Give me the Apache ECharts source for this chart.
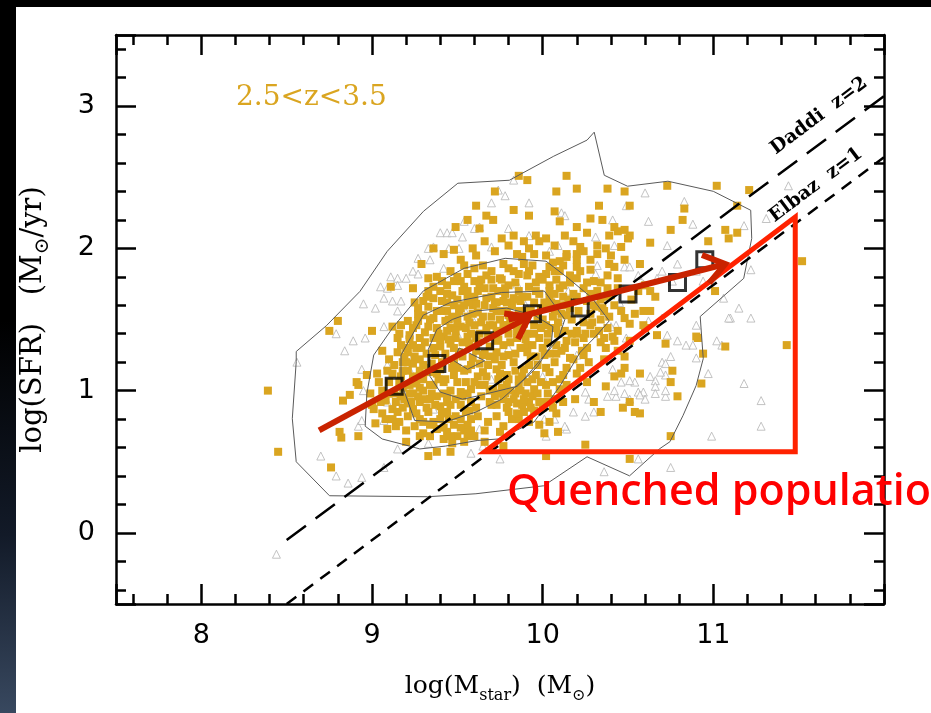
<!DOCTYPE html>
<html><head><meta charset="utf-8">
<script src="https://cdn.jsdelivr.net/npm/echarts@6/dist/echarts.min.js"></script>
<style>html,body{margin:0;padding:0;background:#fff}#c{width:931px;height:713px}</style>
</head><body><div id="c"></div>
<script>
// ---------- data ----------
const xTickLabels = [8, 9, 10, 11];
const yTickLabels = [0, 1, 2, 3];

// binned running median (open black squares)
const binMassX = [9.13, 9.38, 9.66, 9.94, 10.22, 10.50, 10.79, 10.95];
const binSfrY  = [1.03, 1.19, 1.35, 1.54, 1.58, 1.68, 1.76, 1.92];

// reference relations
const daddiLine = [[8.5, -0.05], [12.0, 3.07]];
const elbazLine = [[8.5, -0.5], [12.0, 2.64]];

// red annotation arrows and quenched triangle
const trendArrows = [[[8.69, 0.72], [9.92, 1.52]], [[9.80, 1.50], [11.07, 1.89]]];
const quenchedTriangle = [[9.66, 0.57], [11.48, 2.22], [11.48, 0.57]];

// density contours
const contourOuter = [[8.556,1.275],[8.734,1.458],[8.929,1.697],[9.089,1.979],[9.302,2.261],[9.503,2.458],[9.805,2.479],[10.065,2.648],[10.26,2.761],[10.302,2.817],[10.361,2.514],[10.497,2.437],[10.734,2.472],[11.0,2.401],[11.219,2.268],[11.225,2.07],[11.178,1.789],[10.923,1.521],[10.941,1.225],[10.899,1.035],[10.822,0.824],[10.746,0.641],[10.686,0.592],[10.509,0.401],[10.26,0.535],[10.006,0.331],[9.609,0.275],[9.325,0.254],[8.751,0.261],[8.556,0.5],[8.533,0.803],[8.556,1.204]];
const contourLevel2 = [[8.97,0.98],[9.01,1.25],[9.12,1.44],[9.30,1.70],[9.54,1.86],[9.78,1.93],[10.02,1.91],[10.15,1.79],[10.29,1.65],[10.39,1.49],[10.31,1.38],[10.22,1.27],[10.10,1.03],[9.95,0.78],[9.74,0.66],[9.62,0.65],[9.43,0.61],[9.28,0.59],[9.22,0.61],[9.06,0.66],[8.96,0.75]];
const contourLevel3 = [[9.17,1.25],[9.30,1.53],[9.46,1.62],[9.76,1.69],[10.01,1.70],[10.13,1.50],[10.09,1.36],[9.99,1.22],[9.89,1.08],[9.76,0.94],[9.61,0.85],[9.43,0.78],[9.25,0.79],[9.17,1.06]];
const contourLevel4 = [[9.33,1.29],[9.38,1.43],[9.47,1.50],[9.61,1.56],[9.79,1.58],[9.95,1.53],[10.06,1.45],[10.05,1.32],[9.97,1.17],[9.85,1.03],[9.61,0.96],[9.53,0.94],[9.40,0.99],[9.34,1.10]];
const contourLevel5 = [[9.48,1.21],[9.51,1.30],[9.66,1.21],[9.56,1.15]];

// galaxies, gold squares
const goldGalaxies = [
[9.61,2.30],[9.56,2.20],[9.49,2.15],[9.36,2.00],[9.42,1.96],[9.48,1.99],[9.59,2.00],[9.29,1.89],[9.52,1.92],[9.54,1.88],[9.46,1.84],[9.60,1.86],[9.33,1.79],[9.41,1.77],[9.48,1.77],[9.52,1.77],[9.11,1.73],[9.24,1.72],[9.36,1.73],[9.44,1.74],[9.54,1.73],[9.60,1.77],[9.33,1.70],[9.40,1.70],[9.47,1.67],[9.53,1.70],[9.30,1.63],[9.36,1.65],[9.41,1.63],[9.48,1.60],[9.56,1.65],[9.27,1.58],[9.33,1.59],[9.38,1.56],[9.44,1.56],[9.52,1.58],[9.59,1.60],[9.21,1.49],[9.27,1.49],[9.30,1.53],[9.36,1.51],[9.43,1.49],[9.50,1.51],[9.56,1.52],[9.12,1.45],[9.17,1.46],[9.24,1.44],[9.33,1.45],[9.38,1.44],[9.46,1.44],[9.52,1.45],[9.60,1.46],[9.15,1.37],[9.22,1.39],[9.28,1.37],[9.36,1.37],[9.42,1.38],[9.49,1.37],[9.56,1.38],[8.80,1.49],[8.75,1.42],[9.00,1.42],[9.17,1.32],[9.24,1.32],[9.40,1.31],[9.46,1.33],
[9.86,2.51],[9.91,2.48],[10.14,2.51],[9.72,2.40],[10.08,2.40],[10.20,2.42],[10.38,2.42],[10.48,2.40],[10.73,2.44],[9.83,2.27],[9.92,2.23],[10.07,2.26],[10.33,2.30],[10.51,2.30],[10.83,2.28],[9.67,2.23],[9.71,2.20],[10.10,2.19],[10.28,2.21],[10.35,2.20],[10.42,2.15],[10.82,2.20],[10.20,2.15],[10.44,2.12],[10.48,2.13],[10.51,2.09],[10.75,2.13],[9.63,2.14],[9.76,2.07],[9.83,2.09],[9.96,2.09],[10.02,2.07],[10.13,2.09],[10.26,2.11],[10.39,2.09],[10.50,2.07],[10.63,2.04],[9.66,2.05],[9.80,2.02],[9.89,2.05],[9.92,2.00],[9.98,2.05],[10.07,2.02],[10.18,2.05],[10.22,2.01],[10.32,2.02],[10.37,2.00],[10.46,2.01],[9.61,1.95],[9.72,1.98],[9.85,1.96],[9.95,1.96],[10.02,1.95],[10.14,1.94],[10.20,1.96],[10.32,1.96],[10.40,1.95],[10.48,1.92],[10.57,1.89],[9.65,1.88],[9.77,1.89],[9.89,1.89],[10.04,1.87],[10.10,1.91],[10.20,1.87],[10.28,1.85],[10.39,1.89],[10.42,1.87],[9.67,1.81],[9.75,1.79],[9.83,1.84],[9.91,1.81],[9.98,1.80],[10.07,1.84],[10.16,1.81],[10.20,1.79],[10.30,1.77],[10.38,1.81],[10.44,1.79],[10.60,1.74],[10.63,1.70],[9.63,1.74],[9.71,1.72],[9.80,1.74],[9.86,1.70],[9.92,1.73],[10.04,1.74],[10.10,1.72],[10.18,1.68],[10.24,1.72],[10.32,1.70],[10.40,1.67],[9.67,1.65],[9.77,1.63],[9.83,1.65],[10.04,1.65],[10.08,1.61],[10.14,1.60],[10.26,1.63],[10.31,1.59],[10.36,1.56],[9.73,1.56],[9.80,1.53],[10.07,1.56],[10.14,1.53],[9.69,1.46],[9.77,1.46],[9.85,1.42],[10.02,1.46],[10.08,1.44],[10.20,1.42],[10.28,1.46],[10.36,1.37],[10.42,1.35],[10.48,1.51],[10.51,1.47],[10.60,1.44],[10.63,1.56],[10.67,1.39],[10.72,1.33],[9.61,1.37],[9.73,1.35],[9.91,1.32],[9.98,1.37],[10.14,1.35],[10.24,1.37],[10.66,1.66],[10.59,1.56],
[11.02,2.44],[11.21,2.41],[11.14,2.30],[11.07,2.13],[11.14,2.11],[11.09,2.07],[10.97,2.05],[11.52,1.91],[11.01,1.70],[10.91,1.37],[11.43,1.32],
[10.46,1.12],[10.57,1.12],[10.76,1.14],[10.75,1.06],[10.79,0.96],[10.37,1.03],[10.30,0.92],[10.34,0.85],[10.47,0.88],[10.51,0.92],[10.54,0.85],[10.57,0.84],[10.19,0.94],[10.01,0.70],[10.09,0.71],[10.25,0.62],[10.02,0.54],[10.51,0.52],[10.75,0.68],[9.77,0.61],
[9.65,1.25],[9.73,1.27],[9.80,1.25],[9.91,1.27],[10.01,1.25],[10.08,1.26],[10.16,1.23],[10.24,1.25],[9.65,1.13],[9.73,1.15],[9.79,1.11],[9.89,1.15],[9.96,1.11],[10.04,1.13],[10.12,1.11],[10.20,1.12],[9.63,1.04],[9.71,1.01],[9.79,1.04],[9.86,1.03],[9.95,1.01],[10.02,1.04],[10.10,1.01],[9.69,0.92],[9.77,0.94],[9.85,0.91],[9.92,0.92],[10.01,0.92],[10.07,0.94],[9.73,0.82],[9.80,0.85],[9.89,0.85],[9.95,0.86],[9.77,0.75],[9.75,0.71],[9.86,0.80],
[8.39,1.00],[8.45,0.57],[8.76,0.46],[8.81,0.71],[8.82,0.67],[8.92,0.68],[8.83,0.93],[8.87,0.97],[8.92,1.04],[8.99,0.98],[9.03,1.12],[9.04,1.06],[9.01,0.87],[9.06,0.84],[9.02,0.77],[9.09,0.73],[9.14,0.75],[9.08,0.93],[9.12,0.87],[9.15,0.85],[9.17,0.96],[9.21,0.91],[9.24,0.87],[9.21,0.82],[9.25,0.75],[9.20,0.64],[9.28,0.68],[9.34,0.68],[9.38,0.73],[9.44,0.71],[9.50,0.68],[9.54,0.72],[9.56,0.68],[9.47,0.63],[9.46,0.57],[9.33,0.54],[9.38,0.57],[9.28,0.80],[9.33,0.85],[9.28,0.92],[9.34,0.94],[9.40,0.89],[9.44,0.85],[9.49,0.82],[9.58,0.80],[9.55,0.85],[9.18,1.20],[9.24,1.19],[9.15,1.27],[9.21,1.27],[9.30,1.08],[9.36,1.04],[9.42,1.06],[9.48,1.11],[9.52,0.99],[9.44,0.96],[9.58,1.01],[9.56,1.15],[9.48,1.20],[9.40,1.15],[9.34,1.13],[9.30,1.18],[8.91,1.06],[8.97,1.11],[9.06,1.28],[9.10,1.22],
[11.07,1.31],[10.90,1.38],[10.94,1.26],[10.44,1.42],[10.59,1.46],[10.51,1.35],[10.93,1.05],
[9.45,1.50],[9.50,1.46],[9.55,1.44],[9.62,1.55],[9.66,1.60],[9.70,1.66],[9.74,1.70],[9.78,1.68],[9.82,1.60],[9.86,1.56],[9.90,1.52],[9.95,1.62],[9.98,1.68],[10.02,1.58],[10.06,1.52],[10.10,1.60],[10.12,1.66],[10.16,1.58],[10.00,1.50],[9.76,1.56],[9.70,1.52],[9.64,1.48],[9.58,1.40],[9.53,1.34],[9.48,1.30],[9.44,1.42],[9.40,1.36],[9.36,1.30],[9.32,1.26],[9.28,1.22],[9.26,1.30],[9.22,1.36],[9.20,1.20],[9.24,1.10],[9.30,1.00],[9.34,1.04],[9.38,0.96],[9.46,1.00],[9.50,1.06],[9.54,1.14],[9.58,1.18],[9.62,1.10],[9.66,1.04],[9.72,0.96],[9.76,1.02],[9.80,1.08],[9.84,1.14],[9.88,1.10],[9.92,1.18],[9.96,1.24],[10.00,1.30],[10.04,1.26],[10.08,1.32],[9.86,1.44],[9.90,1.36],[9.94,1.32],[9.78,1.46],[9.74,1.36],[9.68,1.38],[9.62,1.34],[9.66,1.26],[9.72,1.22],[9.76,1.18],[9.84,1.26],[9.80,1.40],[9.56,0.98],[9.52,0.90],[9.44,0.92],[9.40,0.80],[9.36,0.78],[9.48,0.76],[9.56,0.76],[9.62,0.82],[9.68,0.78],[9.60,0.68],[9.66,0.64],[9.54,0.64],[9.12,1.12],[9.16,1.06],[9.10,0.98],[9.06,1.00],[9.18,1.14],[9.08,0.80],[9.00,0.90],[9.24,0.98],[9.28,1.02],[9.16,0.78],[9.20,0.72],[9.30,0.70],[9.42,0.66],[9.80,0.92],[9.84,0.98],[9.88,0.90],[9.94,0.96],[10.00,0.88],[10.06,1.06],[10.12,0.92],[10.08,0.84],[10.04,0.78],[9.98,0.76],[9.92,0.78],[10.14,1.16],[10.18,1.22],[10.22,1.16],[10.26,1.06],[10.20,1.40],[10.24,1.48],[10.28,1.54],[10.34,1.50],[10.38,1.44],[10.30,1.40],[10.26,1.30],[10.34,1.34],[10.36,1.22],[10.44,1.28],[10.48,1.24],[10.42,1.10],[10.48,1.16],[10.12,1.74],[10.20,1.66],[10.26,1.76],[10.34,1.76],[10.36,1.66],[10.44,1.72],[10.46,1.56],[10.52,1.64],[10.54,1.54],[10.56,1.70],[9.62,1.70],[9.58,1.62],[9.64,1.78],[9.70,1.84],[9.76,1.78],[9.80,1.86],[9.86,1.82],[9.88,1.94],[9.94,1.88],[9.96,1.76],[10.02,1.82],[10.06,1.90],[10.10,1.84],[10.14,1.96],[10.20,1.92],[10.24,1.98],[10.28,1.92],
[9.25,1.62],[9.31,1.41],[9.35,1.19],[9.39,1.08],[9.43,1.26],[9.47,1.52],[9.51,1.27],[9.54,1.60],[9.57,1.33],[9.59,1.23],[9.61,1.61],[9.63,1.19],[9.67,1.44],[9.69,1.31],[9.71,1.58],[9.73,1.42],[9.75,1.12],[9.77,1.32],[9.79,1.62],[9.81,1.48],[9.83,1.20],[9.85,1.37],[9.87,1.63],[9.89,1.47],[9.91,1.40],[9.93,1.56],[9.95,1.46],[9.97,1.18],[9.99,1.58],[10.03,1.40],[10.05,1.62],[10.07,1.20],[10.09,1.48],[10.11,1.28],[10.13,1.42],[10.17,1.50],[10.19,1.34],[10.21,1.56],[10.23,1.28],[10.25,1.40],[10.27,1.20],[10.29,1.48],[10.33,1.42],[10.35,1.58],[10.37,1.30],[10.39,1.52],[10.41,1.38],[9.26,1.05],[9.32,0.88],[9.38,1.12],[9.42,0.98],[9.46,0.90],[9.50,1.16],[9.52,0.80],[9.58,0.92],[9.60,1.06],[9.64,0.96],[9.66,0.72],[9.68,1.18],[9.70,0.90],[9.74,1.08],[9.78,0.98],[9.82,0.80],[9.86,1.08],[9.90,0.98],[9.94,1.08],[9.98,0.92],[10.02,1.16],[10.06,0.88],[10.10,1.08],[10.14,1.04],[9.18,1.02],[9.14,0.92],[9.10,1.06],[9.22,1.04],[9.26,0.84],[9.30,0.78],[9.34,0.76],[9.42,0.74],[9.46,0.68],[9.52,0.74],[9.58,0.72],[9.12,0.80],[9.18,0.88],[9.22,0.98],[9.28,1.14],[9.20,1.30],[9.16,1.40],[9.26,1.46],[9.34,1.50],[9.40,1.56],[9.44,1.62],[9.50,1.64],[9.56,1.70],[9.60,1.66],[9.66,1.72],[9.70,1.78],[9.72,1.62],[9.78,1.72],[9.84,1.76],[9.88,1.66],[9.92,1.84],[9.96,1.70],[10.00,1.78],[10.04,1.70],[10.08,1.78],[10.12,1.88],[10.16,1.76],[10.22,1.84],[10.28,1.68],[10.30,1.60],[10.34,1.64],[10.38,1.72],[10.42,1.60],[9.50,1.80],[9.56,1.82],[9.44,1.68],[9.38,1.80],[9.32,1.66],
[9.27,1.54],[9.31,1.34],[9.33,1.16],[9.37,1.25],[9.39,1.40],[9.41,1.20],[9.43,1.08],[9.45,1.36],[9.47,1.16],[9.49,1.42],[9.51,1.56],[9.53,1.24],[9.55,1.06],[9.57,1.48],[9.59,1.54],[9.61,1.28],[9.63,1.40],[9.65,1.52],[9.67,1.10],[9.69,1.24],[9.71,1.46],[9.73,1.62],[9.75,1.50],[9.77,1.24],[9.79,1.56],[9.81,1.34],[9.83,1.52],[9.85,1.64],[9.87,1.30],[9.89,1.56],[9.91,1.66],[9.93,1.24],[9.95,1.40],[9.97,1.52],[9.99,1.44],[10.01,1.62],[10.03,1.34],[10.05,1.44],[10.07,1.68],[10.09,1.40],[10.11,1.54],[10.13,1.30],[10.15,1.64],[10.17,1.40],[9.69,1.00],[9.73,0.90],[9.75,0.98],[9.79,0.88],[9.81,1.00],[9.83,0.94],[9.85,0.84],[9.87,1.00],[9.89,0.94],[9.91,1.06],[9.93,0.88],[9.97,0.98],[9.99,1.06],[10.03,0.98],[10.05,0.92],[9.61,0.88],[9.57,0.86],[9.53,0.96],[9.49,0.94],[9.45,0.80],[9.41,0.84],[9.37,0.90],[9.35,0.98],[9.31,0.94],[9.27,0.96],[9.23,0.92],[9.19,0.94],[9.13,0.98],[9.17,1.10],[9.21,1.14],[9.25,1.24],[9.29,1.30],[9.19,1.24],[9.13,1.18],[9.09,1.14],[9.05,0.92]
];

// galaxies, grey open triangles
const greyGalaxies = [
[9.40,2.11],[9.44,2.11],[9.47,2.11],[9.53,2.08],[9.33,2.00],[9.36,2.01],[9.45,2.00],[9.51,2.00],[9.27,1.93],[9.34,1.92],[9.24,1.84],[9.27,1.82],[9.11,1.80],[9.15,1.79],[9.20,1.79],[9.05,1.73],[9.09,1.72],[9.15,1.74],[9.42,1.86],[9.07,1.65],[9.12,1.63],[9.17,1.63],[8.95,1.61],[9.02,1.58],[9.15,1.56],[9.07,1.45],[8.89,1.35],[8.96,1.37],[8.79,1.40],[9.54,2.19],[9.60,2.14],
[9.83,2.48],[9.74,2.41],[9.78,2.37],[9.70,2.32],[9.92,2.32],[10.11,2.25],[10.13,2.23],[10.41,2.20],[10.49,2.30],[10.60,2.39],[10.83,2.33],[10.62,2.19],[9.63,2.15],[9.80,2.14],[9.92,2.09],[10.31,2.08],[10.42,2.02],[9.70,2.01],[10.09,2.02],[10.23,2.01],[10.04,1.98],[10.73,2.02],[10.48,1.87],[10.51,1.87],[10.32,1.88],[10.56,1.81],[10.70,1.84],[10.79,1.89],[10.67,1.79],[10.59,1.75],[10.62,1.49],[10.73,1.39],[10.70,1.51],[10.79,1.35],[10.49,1.37],[10.43,1.46],[10.31,1.82],
[11.18,2.16],[10.76,1.77],[10.90,1.84],[10.94,1.77],[11.15,1.58],[11.22,1.51],[11.10,1.51],[10.90,1.46],[11.02,1.35],[11.05,1.32],[10.88,1.32],[10.84,1.32],[10.75,1.24],[10.70,1.20],[10.90,1.23],[10.97,1.12],[11.18,1.05],[11.28,0.93],[11.28,0.75],[10.99,0.68],[10.66,1.07],[10.72,1.11],[10.59,0.99],[10.66,1.03],[10.54,1.06],[10.51,1.07],[10.41,1.15],[10.43,0.96],[10.51,0.94],[10.72,0.96],[10.60,0.94],[10.25,0.99],[10.27,0.94],[10.07,0.80],[10.14,0.73],[10.02,0.68],[10.25,0.82],
[10.72,1.19],[10.69,1.13],[10.63,1.10],[10.46,1.06],[10.38,0.96],[10.42,1.00],[10.48,0.98],[10.56,0.99],[10.57,0.97],[10.66,0.98],[10.72,1.00],[10.18,0.85],[10.30,0.85],[10.01,0.80],[10.13,0.75],[9.75,0.52],[10.56,0.52],[10.36,0.43],[10.75,0.46],[9.65,0.61],[9.63,0.73],
[8.56,1.20],[8.84,1.28],[8.94,1.15],[9.09,1.18],[8.95,1.00],[8.92,0.75],[8.94,0.79],[9.07,0.79],[9.15,0.94],[9.09,0.92],[8.70,0.54],[8.79,0.40],[8.86,0.35],[8.94,0.39],[9.07,0.46],[9.15,0.59],[9.33,0.63],[9.58,0.56],[8.44,-0.15],[9.36,0.87],[9.21,1.25],[9.22,1.15],
[11.44,2.44],[11.31,2.21],[11.22,1.85],[11.06,1.65],[11.09,1.51],[10.88,2.17],
[9.60,1.48],[9.80,1.30],[9.90,1.60],[10.10,1.50],[10.00,1.10],[9.50,1.40],[9.70,1.08],[10.20,1.25],[10.40,1.45],[9.85,1.75],[10.15,1.70],[10.45,1.62],[9.55,1.55]
];

// ---------- chart ----------
const chart = echarts.init(document.getElementById('c'), null, {renderer: 'canvas'});
const close = a => a.concat([a[0]]);
const AXIS = '#000';
const tickFmtX = v => xTickLabels.includes(v) ? String(v) : '';
const tickFmtY = v => yTickLabels.includes(v) ? String(v) : '';
const nameRichX = {
  n: {fontFamily: 'DejaVu Serif', fontSize: 25, color: '#000', lineHeight: 30, verticalAlign: 'top'},
  s: {fontFamily: 'DejaVu Serif', fontSize: 16, color: '#000', lineHeight: 12, verticalAlign: 'bottom'}
};
const nameRichY = {
  n: {fontFamily: 'DejaVu Serif', fontSize: 29, color: '#000', lineHeight: 34, verticalAlign: 'top'},
  s: {fontFamily: 'DejaVu Serif', fontSize: 20, color: '#000', lineHeight: 14, verticalAlign: 'bottom'}
};
function frameAxis(extra) {
  return Object.assign({
    type: 'value',
    axisLine: {show: true, onZero: false, lineStyle: {color: AXIS, width: 2.5}},
    axisTick: {show: true, inside: true, length: 20, lineStyle: {color: AXIS, width: 2.5}},
    minorTick: {show: true, splitNumber: 5, length: 10, lineStyle: {color: AXIS, width: 2.5}},
    splitLine: {show: false}, minorSplitLine: {show: false}
  }, extra);
}
const contourStyle = {type: 'line', showSymbol: false, symbol: 'none', silent: true,
  lineStyle: {color: '#5a5a5a', width: 1}, z: 3};

chart.setOption({
  animation: false,
  backgroundColor: '#ffffff',
  grid: {left: 116, right: 47, top: 35, bottom: 109, containLabel: false, outerBoundsMode: 'none'},
  xAxis: [
    frameAxis({min: 7.5, max: 12, position: 'bottom',
      axisLabel: {formatter: tickFmtX, fontFamily: 'DejaVu Sans', fontSize: 27, color: '#000', margin: 18},
      name: '{n|log(M}{s|star}{n|)  (M}{s|⊙}{n|)}', nameLocation: 'middle', nameGap: 70,
      nameTextStyle: {rich: nameRichX}}),
    frameAxis({min: 7.5, max: 12, position: 'top', axisLabel: {show: false}})
  ],
  yAxis: [
    frameAxis({min: -0.5, max: 3.5, position: 'left',
      axisLabel: {formatter: tickFmtY, fontFamily: 'DejaVu Sans', fontSize: 27, color: '#000', margin: 21},
      name: '{n|log(SFR)   (M}{s|⊙}{n|/yr)}', nameLocation: 'middle', nameGap: 63,
      nameTextStyle: {rich: nameRichY}}),
    frameAxis({min: -0.5, max: 3.5, position: 'right', axisLabel: {show: false}})
  ],
  series: [
    {type: 'scatter', name: 'grey', data: greyGalaxies, symbol: 'triangle', symbolSize: 8,
      itemStyle: {color: '#ffffff', borderColor: '#b4b4b4', borderWidth: 1}, z: 2, silent: true},
    {type: 'scatter', name: 'gold', data: goldGalaxies, symbol: 'rect', symbolSize: 8,
      itemStyle: {color: '#DAA520', opacity: 1}, z: 2, silent: true},
    Object.assign({data: close(contourOuter)}, contourStyle),
    Object.assign({data: close(contourLevel2)}, contourStyle),
    Object.assign({data: close(contourLevel3)}, contourStyle),
    Object.assign({data: close(contourLevel4)}, contourStyle),
    Object.assign({data: close(contourLevel5)}, contourStyle),
    {type: 'line', data: daddiLine, showSymbol: false, symbol: 'none', silent: true, z: 4,
      lineStyle: {color: '#000', width: 2.5, type: [24, 12]}},
    {type: 'line', data: elbazLine, showSymbol: false, symbol: 'none', silent: true, z: 4,
      lineStyle: {color: '#000', width: 2.5, type: [12, 9]}},
    {type: 'scatter', name: 'bins', data: binMassX.map((x, i) => [x, binSfrY[i]]), symbol: 'rect', symbolSize: 16,
      itemStyle: {color: 'rgba(0,0,0,0)', borderColor: '#000', borderWidth: 3}, z: 5, silent: true},
    {type: 'custom', coordinateSystem: 'cartesian2d', data: [quenchedTriangle.flat()], z: 6, clip: false, silent: true,
      encode: {x: [0, 2, 4], y: [1, 3, 5]},
      renderItem: (params, api) => {
        const pts = [];
        for (let i = 0; i < 3; i++) pts.push(api.coord([api.value(2 * i), api.value(2 * i + 1)]));
        return {type: 'polygon', shape: {points: pts},
          style: {fill: 'none', stroke: '#FF2200', lineWidth: 5, lineJoin: 'miter', miterLimit: 20}};
      }},
    {type: 'custom', coordinateSystem: 'cartesian2d', z: 7, clip: false, silent: true,
      data: trendArrows.map(a => [a[0][0], a[0][1], a[1][0], a[1][1]]),
      encode: {x: [0, 2], y: [1, 3]},
      renderItem: (params, api) => {
        const p1 = api.coord([api.value(0), api.value(1)]);
        const p2 = api.coord([api.value(2), api.value(3)]);
        const a = Math.atan2(p2[1] - p1[1], p2[0] - p1[0]);
        const L = 25, t = 0.62;
        const l = [p2[0] - L * Math.cos(a - t), p2[1] - L * Math.sin(a - t)];
        const r = [p2[0] - L * Math.cos(a + t), p2[1] - L * Math.sin(a + t)];
        const st = {stroke: '#C92300', lineWidth: 6, fill: null, lineJoin: 'miter'};
        return {type: 'group', children: [
          {type: 'line', shape: {x1: p1[0], y1: p1[1], x2: p2[0] - 3 * Math.cos(a), y2: p2[1] - 3 * Math.sin(a)}, style: st},
          {type: 'polyline', shape: {points: [l, p2, r]}, style: st}
        ]};
      }}
  ],
  graphic: [
    {type: 'rect', z: 100, silent: true, shape: {x: 0, y: 0, width: 931, height: 7}, style: {fill: '#000'}},
    {type: 'rect', z: 100, silent: true, shape: {x: 0, y: 0, width: 16, height: 713},
      style: {fill: new echarts.graphic.LinearGradient(0, 0, 0, 1, [
        {offset: 0, color: '#000000'}, {offset: 0.45, color: '#000000'},
        {offset: 0.75, color: '#121a28'}, {offset: 1, color: '#38485f'}])}},
    {type: 'text', z: 100, silent: true, x: 236, y: 98,
      style: {text: '2.5<z<3.5', font: '28px "DejaVu Serif"', fill: '#DAA520', align: 'left', verticalAlign: 'middle'}},
    {type: 'text', z: 100, silent: true, x: 819, y: 116, rotation: 37 * Math.PI / 180,
      style: {text: 'Daddi  z=2', font: 'bold 19px "DejaVu Serif"', fill: '#000', align: 'center', verticalAlign: 'middle'}},
    {type: 'text', z: 100, silent: true, x: 816, y: 185, rotation: 37 * Math.PI / 180,
      style: {text: 'Elbaz  z=1', font: 'bold 19px "DejaVu Serif"', fill: '#000', align: 'center', verticalAlign: 'middle'}},
    {type: 'text', z: 100, silent: true, x: 507, y: 493,
      style: {text: 'Quenched population', font: '600 43px "Open Sans"', fill: '#FF0000', align: 'left', verticalAlign: 'middle'}}
  ]
});
</script></body></html>
